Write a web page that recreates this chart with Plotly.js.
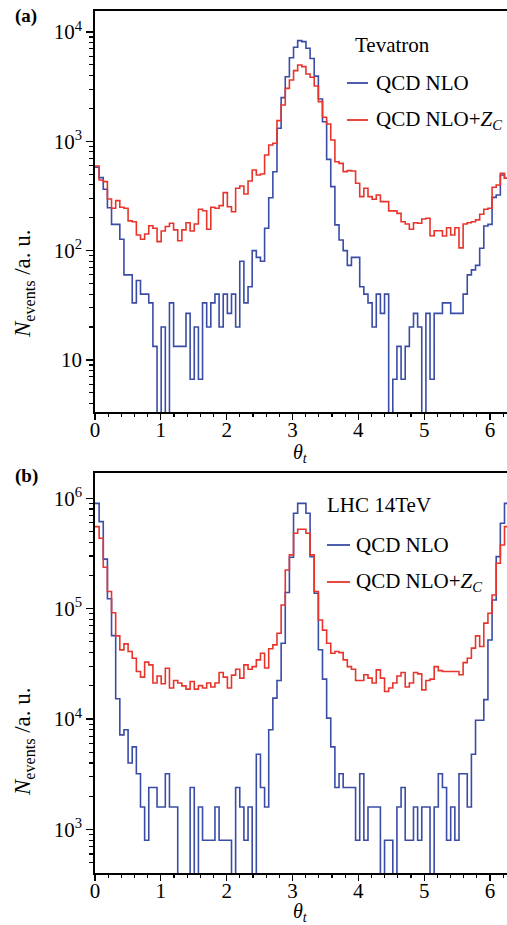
<!DOCTYPE html>
<html>
<head>
<meta charset="utf-8">
<script src="https://cdn.plot.ly/plotly-3.0.1.min.js"></script>
<style>html,body{margin:0;padding:0;background:#fff;}#chart{width:507px;height:925px;}</style>
</head>
<body>
<div id="chart"></div>
<script>
// ---- data: 100 bins over theta_t in [0, 2*pi] ----
const nBins = 100;
const xTickVals = [0, 1, 2, 3, 4, 5, 6];

// Panel (a) Tevatron
const tevNLO = [580,465,364,247,174,174,127,60,60,33.3,53.3,40,40,33.3,13.3,0,20,0,33.3,13.3,
13.3,13.3,26.7,6.67,20,6.67,33.3,20,33.3,40,20,40,26.7,40,20,80,33.3,46.7,100,86.7,
80,160,305,527,1315,2510,3900,5820,7250,8330,8160,7100,5730,3950,2440,1510,684,385,172,125,
100,73.3,86.7,86.7,46.7,40,33.3,20,40,26.7,40,0,6.67,13.3,6.67,13.3,20,26.7,20,0,
26.7,6.67,26.7,26.7,33.3,33.3,26.7,26.7,26.7,40,60,66.7,73.3,105,168,174,307,323,492,459];
const tevZC = [595,443,428,297,244,287,249,244,187,184,139,127,142,169,160,121,151,166,178,155,
123,155,180,151,175,239,232,157,249,244,258,339,252,227,372,390,330,434,547,492,
503,750,925,959,1545,2150,3050,3640,4430,4990,4820,4130,3850,3210,2305,1658,1440,1028,651,629,
528,539,535,413,312,372,312,295,323,281,281,231,231,219,184,175,157,180,178,195,
198,137,152,152,136,162,139,162,106,175,180,184,191,215,239,244,380,399,510,459];

// Panel (b) LHC 14 TeV
const lhcNLO = [900000,614000,281000,123000,57000,15300,7200,8000,4000,5600,3200,1600,800,2400,2400,1600,1600,3200,1600,1600,
0,0,0,2400,0,1600,800,800,800,1600,800,800,800,0,2400,1600,800,1600,0,4800,
2400,1600,8000,15500,22400,48600,140000,292000,731000,900000,900000,731000,296000,138000,42500,23000,10200,5600,2400,3200,
2400,2400,2400,800,3200,800,1600,1600,1600,0,800,800,0,1600,2400,800,800,1600,800,1600,
1600,0,1600,3200,2400,800,1600,800,3200,3200,1600,4800,9750,9750,15000,52000,120000,296000,594000,900000];
const lhcZC = [554000,434000,237000,143000,92000,56700,42400,48000,40900,35600,27000,24000,32800,31000,21200,24600,20900,28900,19100,22400,
21200,20000,18700,21900,18700,20100,19100,21200,19500,21200,26400,24000,19100,25000,28300,23500,31000,28300,29900,34400,
39500,29000,43300,47000,60000,108000,224000,307000,482000,524000,524000,482000,307000,143000,79000,64000,48700,39500,40900,40000,
34400,29900,28300,22400,22400,25200,23500,21200,27900,23500,17800,19100,21200,24600,26400,19500,21200,26400,25700,18400,
22400,23000,29900,27500,27000,27000,27000,27000,25200,32500,35600,43900,56700,45400,74000,91000,133000,258000,378000,554000];

const seriesNames = ['QCD NLO', 'QCD NLO+<i>Z</i><sub><i>C</i></sub>'];
const panelLabels = ['(a)', '(b)'];
const colliderLabels = ['Tevatron', 'LHC 14TeV'];

// ---- layout helpers ----
const W = 507, H = 925;
const ML = 95, MR = 0, MT = 11, MB = 52;
const PW = W - ML - MR, PH = H - MT - MB;
const px2x = p => (p - ML) / PW;
const py2y = p => (H - MB - p) / PH;

const BLUE = '#3a4ca6', RED = '#e8342b';
const FONT = 'Liberation Serif';

const edges = Array.from({length: nBins + 1}, (_, i) => i * 2 * Math.PI / nBins);
function step(vals) {
  const y = vals.map(v => (v > 0 ? v : 1e-3));
  y.push(y[y.length - 1]);
  return y;
}
function tr(vals, color, xa, ya) {
  return {x: edges, y: step(vals), xaxis: xa, yaxis: ya, type: 'scatter', mode: 'lines',
    line: {shape: 'hv', color: color, width: 1.6}, showlegend: false, hoverinfo: 'skip'};
}
const data = [
  tr(tevNLO, BLUE, 'x', 'y'), tr(tevZC, RED, 'x', 'y'),
  tr(lhcNLO, BLUE, 'x2', 'y2'), tr(lhcZC, RED, 'x2', 'y2')
];

function minorVals(lo, hi) {
  const out = [];
  for (let e = lo; e <= hi; e++) for (let m = 2; m <= 9; m++) out.push(m * Math.pow(10, e));
  return out;
}
function supLabel(e) { return e === 1 ? '10' : '10<sup>' + e + '</sup>'; }

const xRange = [0, PW / 65.83];
function xaxis(anchor) {
  return {anchor: anchor, range: xRange, tickvals: xTickVals, ticktext: xTickVals.map(String),
    ticks: 'outside', ticklen: 6, tickwidth: 1.3, tickcolor: '#000', ticklabelstandoff: -8,
    showline: true, linewidth: 1.8, linecolor: '#000', mirror: true, showgrid: false, zeroline: false,
    tickfont: {family: FONT, size: 21, color: '#000'},
    minor: {dtick: 0.2, tick0: 0, ticks: 'outside', ticklen: 3, tickwidth: 1.1, tickcolor: '#000', showgrid: false}};
}
function yaxis(anchor, domain, range, exps) {
  return {anchor: anchor, domain: domain, type: 'log', range: range,
    tickvals: exps.map(e => Math.pow(10, e)), ticktext: exps.map(supLabel),
    ticks: 'outside', ticklen: 7, tickwidth: 1.3, tickcolor: '#000',
    showline: true, linewidth: 1.8, linecolor: '#000', showgrid: false, zeroline: false,
    tickfont: {family: FONT, size: 21, color: '#000'},
    minor: {tickmode: 'array', tickvals: minorVals(Math.floor(range[0]), Math.floor(range[1])),
      ticks: 'outside', ticklen: 4, tickwidth: 1.1, tickcolor: '#000', showgrid: false}};
}

const ann = [];
const shapes = [];
function text(t, pxX, pyY, size, opts) {
  ann.push(Object.assign({text: t, xref: 'paper', yref: 'paper', x: px2x(pxX), y: py2y(pyY),
    showarrow: false, xanchor: 'left', yanchor: 'middle',
    font: {family: FONT, size: size, color: '#000'}}, opts || {}));
}
function legLine(x0, x1, py, color) {
  shapes.push({type: 'line', xref: 'paper', yref: 'paper', x0: px2x(x0), x1: px2x(x1),
    y0: py2y(py), y1: py2y(py), line: {color: color, width: 1.8}});
}

const yTitle = '<i>N</i><sub>events</sub> /a. u.';
// panel (a)
text('<b>' + panelLabels[0] + '</b>', 26, 16, 19, {xanchor: 'center'});
text(yTitle, 24, 284, 23, {xanchor: 'center', textangle: -90});
text('<i>θ</i><sub><i>t</i></sub>', 300, 453, 20, {xanchor: 'center'});
text(colliderLabels[0], 353, 45, 21);
legLine(347, 368, 83, BLUE); text(seriesNames[0], 374, 83, 21);
legLine(347, 368, 120, RED); text(seriesNames[1], 374, 120, 21);

// panel (b)
text('<b>' + panelLabels[1] + '</b>', 26, 476, 19, {xanchor: 'center'});
text(yTitle, 24, 742, 23, {xanchor: 'center', textangle: -90});
text('<i>θ</i><sub><i>t</i></sub>', 300, 912, 20, {xanchor: 'center'});
text(colliderLabels[1], 325, 505, 21);
legLine(327, 350, 545, BLUE); text(seriesNames[0], 354, 545, 21);
legLine(327, 350, 582, RED); text(seriesNames[1], 354, 582, 21);

const layout = {
  width: W, height: H, margin: {l: ML, r: MR, t: MT, b: MB, pad: 0},
  font: {family: FONT, color: '#000'},
  paper_bgcolor: '#fff', plot_bgcolor: '#fff', showlegend: false,
  xaxis: xaxis('y'), yaxis: yaxis('x', [py2y(412), 1], [0.524, 4.192], [1, 2, 3, 4]),
  xaxis2: xaxis('y2'), yaxis2: yaxis('x2', [0, py2y(473)], [2.606, 6.229], [3, 4, 5, 6]),
  annotations: ann, shapes: shapes
};
Plotly.newPlot('chart', data, layout, {staticPlot: true, displayModeBar: false});
</script>
</body>
</html>
